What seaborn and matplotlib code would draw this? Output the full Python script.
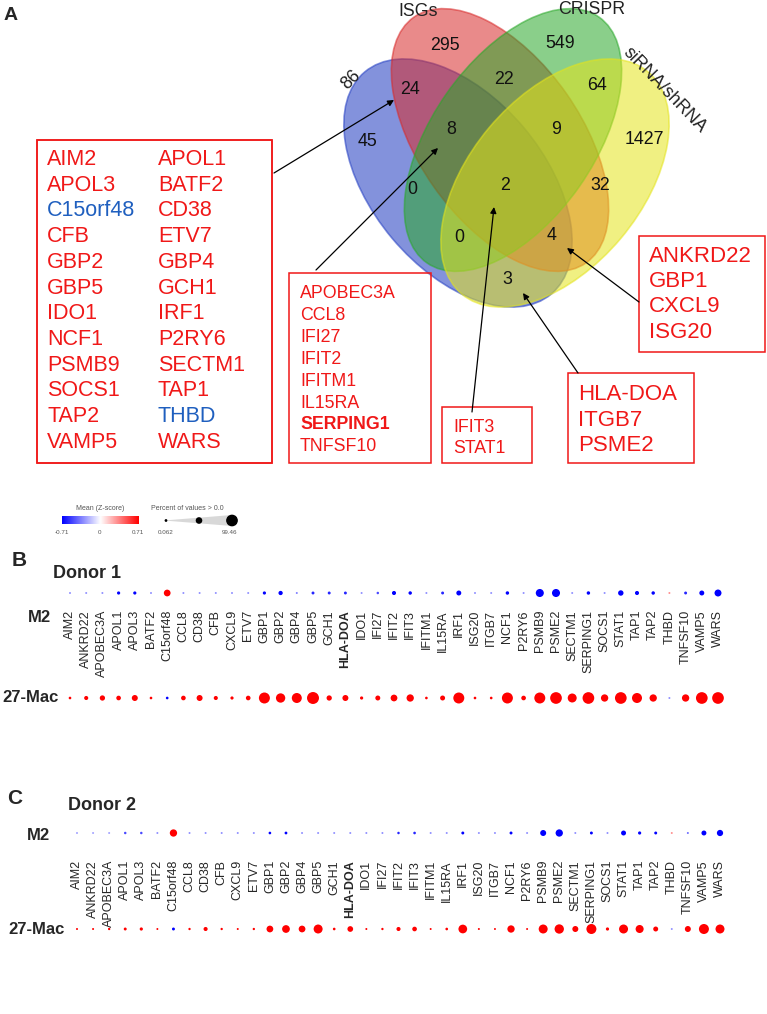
import numpy as np
import pandas as pd
import matplotlib
matplotlib.use("Agg")
import matplotlib.pyplot as plt
import matplotlib.transforms as mtransforms
from matplotlib.patches import Ellipse, Rectangle, Polygon
from matplotlib import font_manager
import seaborn as sns

# ---- data -------------------------------------------------------------
genes = ['AIM2', 'ANKRD22', 'APOBEC3A', 'APOL1', 'APOL3', 'BATF2', 'C15orf48', 'CCL8',
         'CD38', 'CFB', 'CXCL9', 'ETV7', 'GBP1', 'GBP2', 'GBP4', 'GBP5', 'GCH1',
         'HLA-DOA', 'IDO1', 'IFI27', 'IFIT2', 'IFIT3', 'IFITM1', 'IL15RA', 'IRF1',
         'ISG20', 'ITGB7', 'NCF1', 'P2RY6', 'PSMB9', 'PSME2', 'SECTM1', 'SERPING1',
         'SOCS1', 'STAT1', 'TAP1', 'TAP2', 'THBD', 'TNFSF10', 'VAMP5', 'WARS']

# percent of cells > 0 and mean z-score, donor 1
d1_m2_pct = [0.1, 0.1, 0.1, 4, 4, 0.1, 26, 0.1, 0.1, 0.1, 0.1, 0.1, 4, 9, 0.1, 3, 3,
             3, 0.1, 1.5, 8, 5, 0.1, 3, 13, 0.1, 0.1, 5, 0.1, 38, 38, 0.1, 5,
             0.1, 16, 8, 5, 0.1, 3, 13, 28]
d1_m2_z = [-0.3, -0.3, -0.3, -0.7, -0.7, -0.3, 0.71, -0.3, -0.3, -0.3, -0.3, -0.3, -0.7, -0.71, -0.35, -0.6, -0.6,
           -0.6, -0.3, -0.5, -0.71, -0.7, -0.3, -0.6, -0.71, -0.3, -0.3, -0.7, -0.3, -0.71, -0.71, -0.3, -0.7,
           -0.3, -0.71, -0.7, -0.7, 0.3, -0.6, -0.71, -0.71]
d1_mac_pct = [2, 8, 15, 11, 20, 2, 2, 11, 20, 8, 4, 11, 73, 52, 60, 87, 15,
              20, 4, 13, 26, 31, 2, 13, 73, 2, 2, 73, 11, 73, 83, 48, 83,
              31, 83, 60, 31, 0.1, 31, 83, 83]
d1_mac_z = [0.71] * 41
d1_mac_z[6] = -0.71
d1_mac_z[37] = -0.3

# donor 2
d2_m2_pct = [0.1, 0.1, 0.1, 1.5, 1.5, 0.1, 31, 0.1, 0.1, 0.1, 0.1, 0.1, 2, 2.5, 0.1, 0.1, 0.1,
             0.1, 0.1, 0.1, 1.5, 2, 0.1, 0.1, 3, 0.1, 0.1, 3, 0.1, 20, 31, 0.1, 3,
             0.1, 13, 4, 3, 0.1, 0.1, 13, 22]
d2_m2_z = [-0.25, -0.25, -0.25, -0.5, -0.5, -0.3, 0.71, -0.3, -0.3, -0.3, -0.3, -0.3, -0.7, -0.71, -0.3, -0.3, -0.3,
           -0.3, -0.3, -0.3, -0.6, -0.6, -0.3, -0.3, -0.7, -0.3, -0.3, -0.7, -0.3, -0.71, -0.71, -0.3, -0.7,
           -0.3, -0.71, -0.7, -0.7, 0.3, -0.4, -0.71, -0.71]
d2_mac_pct = [0.1, 0.1, 1, 3, 4, 0, 3, 1, 8, 1, 0.1, 1, 26, 35, 26, 48, 2,
              18, 0.1, 1, 8, 11, 0, 2, 45, 0.1, 0, 31, 0, 48, 52, 20, 60,
              4, 48, 38, 13, 0, 20, 60, 48]
d2_mac_z = [0.71] * 41
d2_mac_z[6] = -0.71
d2_mac_z[37] = -0.3

# Venn diagram
set_names = ['86', 'ISGs', 'CRISPR', 'siRNA/shRNA']
venn_counts = ['295', '549', '24', '22', '64', '8', '9', '45', '1427', '0', '2', '32', '0', '4', '3']

left_col1 = ['AIM2', 'APOL3', 'C15orf48', 'CFB', 'GBP2', 'GBP5', 'IDO1', 'NCF1', 'PSMB9', 'SOCS1', 'TAP2', 'VAMP5']
left_col2 = ['APOL1', 'BATF2', 'CD38', 'ETV7', 'GBP4', 'GCH1', 'IRF1', 'P2RY6', 'SECTM1', 'TAP1', 'THBD', 'WARS']
blue_genes = ['C15orf48', 'THBD']
mid_box = ['APOBEC3A', 'CCL8', 'IFI27', 'IFIT2', 'IFITM1', 'IL15RA', 'SERPING1', 'TNFSF10']
core_box = ['IFIT3', 'STAT1']
hla_box = ['HLA-DOA', 'ITGB7', 'PSME2']
ank_box = ['ANKRD22', 'GBP1', 'CXCL9', 'ISG20']

# ---- styling -----------------------------------------------------------
sns.set_style('white')
plt.rcParams['font.family'] = ['Liberation Sans', 'DejaVu Sans']
names = {f.name for f in font_manager.fontManager.ttflist}
NARROW = 'Liberation Sans Narrow' if 'Liberation Sans Narrow' in names else 'Liberation Sans'
narrow_scale = 1.0 if NARROW == 'Liberation Sans Narrow' else 0.85

W, H = 767, 1014
RED = '#f01818'
BLUE_TXT = '#1f5fbf'

fig = plt.figure(figsize=(W / 100, H / 100), dpi=100)
ax0 = fig.add_axes([0, 0, 1, 1])
ax0.set_xlim(0, W)
ax0.set_ylim(H, 0)
ax0.axis('off')

# ---- panel A: Venn -----------------------------------------------------
ellipses = [((458, 183), 145, 86, 50, '#2a44c4', 0.58),
            ((500, 140), 150, 81, 55, '#d82a2a', 0.55),
            ((513, 140), 150, 81, 125, '#2aa82a', 0.55),
            ((555, 183), 145, 86, 130, '#e4e41c', 0.55)]
for (cx, cy), a, b, ang, col, al in ellipses:
    ax0.add_patch(Ellipse((cx, cy), 2 * a, 2 * b, angle=ang, facecolor=col, alpha=al,
                          edgecolor=col, lw=1.2))

count_pos = [(445, 45), (560, 43), (410, 89), (504, 79), (597, 86), (451, 129), (556, 130),
             (367, 142), (644, 140), (412, 189), (505, 186), (600, 185), (459, 237), (552, 236), (507, 279)]
for txt, (x, y) in zip(venn_counts, count_pos):
    ax0.text(x, y, txt, ha='center', va='center', fontsize=15 * narrow_scale, family=NARROW, color='#111')

name_pos = [(351, 80, 45), (418, 11, 0), (592, 10, 0), (665, 90, -46)]
for txt, (x, y, rot) in zip(set_names, name_pos):
    ax0.text(x, y, txt, ha='center', va='center', rotation=rot, fontsize=15 * narrow_scale,
             family=NARROW, color='#222')

ax0.text(4, 15, 'A', fontsize=14, fontweight='bold', va='center')


def gene_box(rect, lines, x, y0, step, size, family, bold=()):
    x0, y0r, x1, y1r = rect
    ax0.add_patch(Rectangle((x0, y0r), x1 - x0, y1r - y0r, fill=False, edgecolor=RED, lw=1.1))
    for i, g in enumerate(lines):
        c = BLUE_TXT if g in blue_genes else RED
        ax0.text(x, y0 + i * step, g, fontsize=size, family=family, color=c, va='baseline',
                 fontweight='bold' if g in bold else 'normal')


gene_box((37, 140, 272, 463), left_col1, 47, 165, 25.7, 15.5, 'Liberation Sans')
gene_box((37, 140, 272, 463), left_col2, 158, 165, 25.7, 15.5, 'Liberation Sans')
gene_box((289, 273, 431, 463), mid_box, 300, 298.5, 21.8, 15 * narrow_scale, NARROW, bold=('SERPING1',))
gene_box((442, 407, 532, 463), core_box, 453, 431.5, 21.5, 15 * narrow_scale, NARROW)
gene_box((568, 373, 694, 463), hla_box, 578, 400, 25.6, 16, 'Liberation Sans')
gene_box((639, 236, 765, 352), ank_box, 649, 261.5, 25.5, 16, 'Liberation Sans')

arrows = [((394, 100), (274, 173)), ((438, 148), (316, 270)), ((494, 207), (472, 412)),
          ((523, 293), (578, 373)), ((567, 248), (639, 302))]
for head, tail in arrows:
    ax0.annotate('', xy=head, xytext=tail,
                 arrowprops=dict(arrowstyle='-|>', color='black', lw=0.9, mutation_scale=9,
                                 shrinkA=0, shrinkB=0))

# legend of the dot plots
ax0.text(100, 508, 'Mean (Z-score)', fontsize=5, color='#555', ha='center', va='center')
ax0.text(187, 508, 'Percent of values > 0.0', fontsize=5, color='#555', ha='center', va='center')
ax0.imshow(np.linspace(-1, 1, 256)[None, :], cmap='bwr', extent=[62, 139, 524, 516], aspect='auto')
for x, t in [(62, '-0.71'), (100, '0'), (138, '0.71')]:
    ax0.text(x, 533, t, fontsize=4.5, color='#555', ha='center', va='center')
ax0.add_patch(Polygon([(164, 520.5), (232, 515), (232, 526)], closed=True, facecolor='#d8d8d8',
                      edgecolor='none'))
ax0.scatter([166, 199, 232], [520.5, 520.5, 520.5], s=[1, 14, 55], color='black', zorder=3)
for x, t in [(166, '0.062'), (230, '99.46')]:
    ax0.text(x, 533, t, fontsize=4.5, color='#555', ha='center', va='center')
ax0.set_xlim(0, W)
ax0.set_ylim(H, 0)


# ---- panels B and C: dot plots ------------------------------------------
def donor_panel(x_first, x_last, y_m2, y_mac, m2_pct, m2_z, mac_pct, mac_z, label_top, bold_labels):
    step = (x_last - x_first) / (len(genes) - 1)
    left = x_first - step / 2
    width = step * len(genes)
    unit = y_mac - y_m2
    top, bottom = y_m2 - 12, y_mac + 12
    ax = fig.add_axes([left / W, 1 - bottom / H, width / W, (bottom - top) / H])
    df = pd.DataFrame({
        'gene': genes * 2,
        'row': ['M2'] * len(genes) + ['27-Mac'] * len(genes),
        'pct': m2_pct + mac_pct,
        'z': m2_z + mac_z,
    })
    sns.scatterplot(data=df, x='gene', y='row', hue='z', size='pct', palette='bwr',
                    hue_norm=(-0.71, 0.71), sizes=(2, 85), size_norm=(0, 100),
                    linewidth=0, legend=False, ax=ax)
    ax.set_xlim(-0.5, len(genes) - 0.5)
    ax.set_ylim((bottom - y_m2) / unit, (top - y_m2) / unit)
    ax.axis('off')
    trans = mtransforms.blended_transform_factory(ax.transData, ax0.transData)
    for i, g in enumerate(genes):
        ax.text(i, label_top, g, rotation=90, ha='center', va='top', fontsize=9,
                fontweight='bold' if g in bold_labels else 'normal', transform=trans, clip_on=False)
    return ax


donor_panel(70, 718, 593, 698, d1_m2_pct, d1_m2_z, d1_mac_pct, d1_mac_z, 610, ('HLA-DOA',))
donor_panel(77, 720, 833, 929, d2_m2_pct, d2_m2_z, d2_mac_pct, d2_mac_z, 860, ('HLA-DOA',))

ax0.text(12, 561, 'B', fontsize=15, fontweight='bold', va='center')
ax0.text(53, 574, 'Donor 1', fontsize=13, fontweight='bold', va='center')
ax0.text(51, 617, 'M2', fontsize=12, fontweight='bold', va='center', ha='right')
ax0.text(59, 698, '27-Mac', fontsize=12, fontweight='bold', va='center', ha='right')

ax0.text(7, 798, 'C', fontsize=15, fontweight='bold', va='center')
ax0.text(68, 805, 'Donor 2', fontsize=13, fontweight='bold', va='center')
ax0.text(50, 835, 'M2', fontsize=12, fontweight='bold', va='center', ha='right')
ax0.text(65, 929, '27-Mac', fontsize=12, fontweight='bold', va='center', ha='right')

fig.savefig('out.png', dpi=100)
